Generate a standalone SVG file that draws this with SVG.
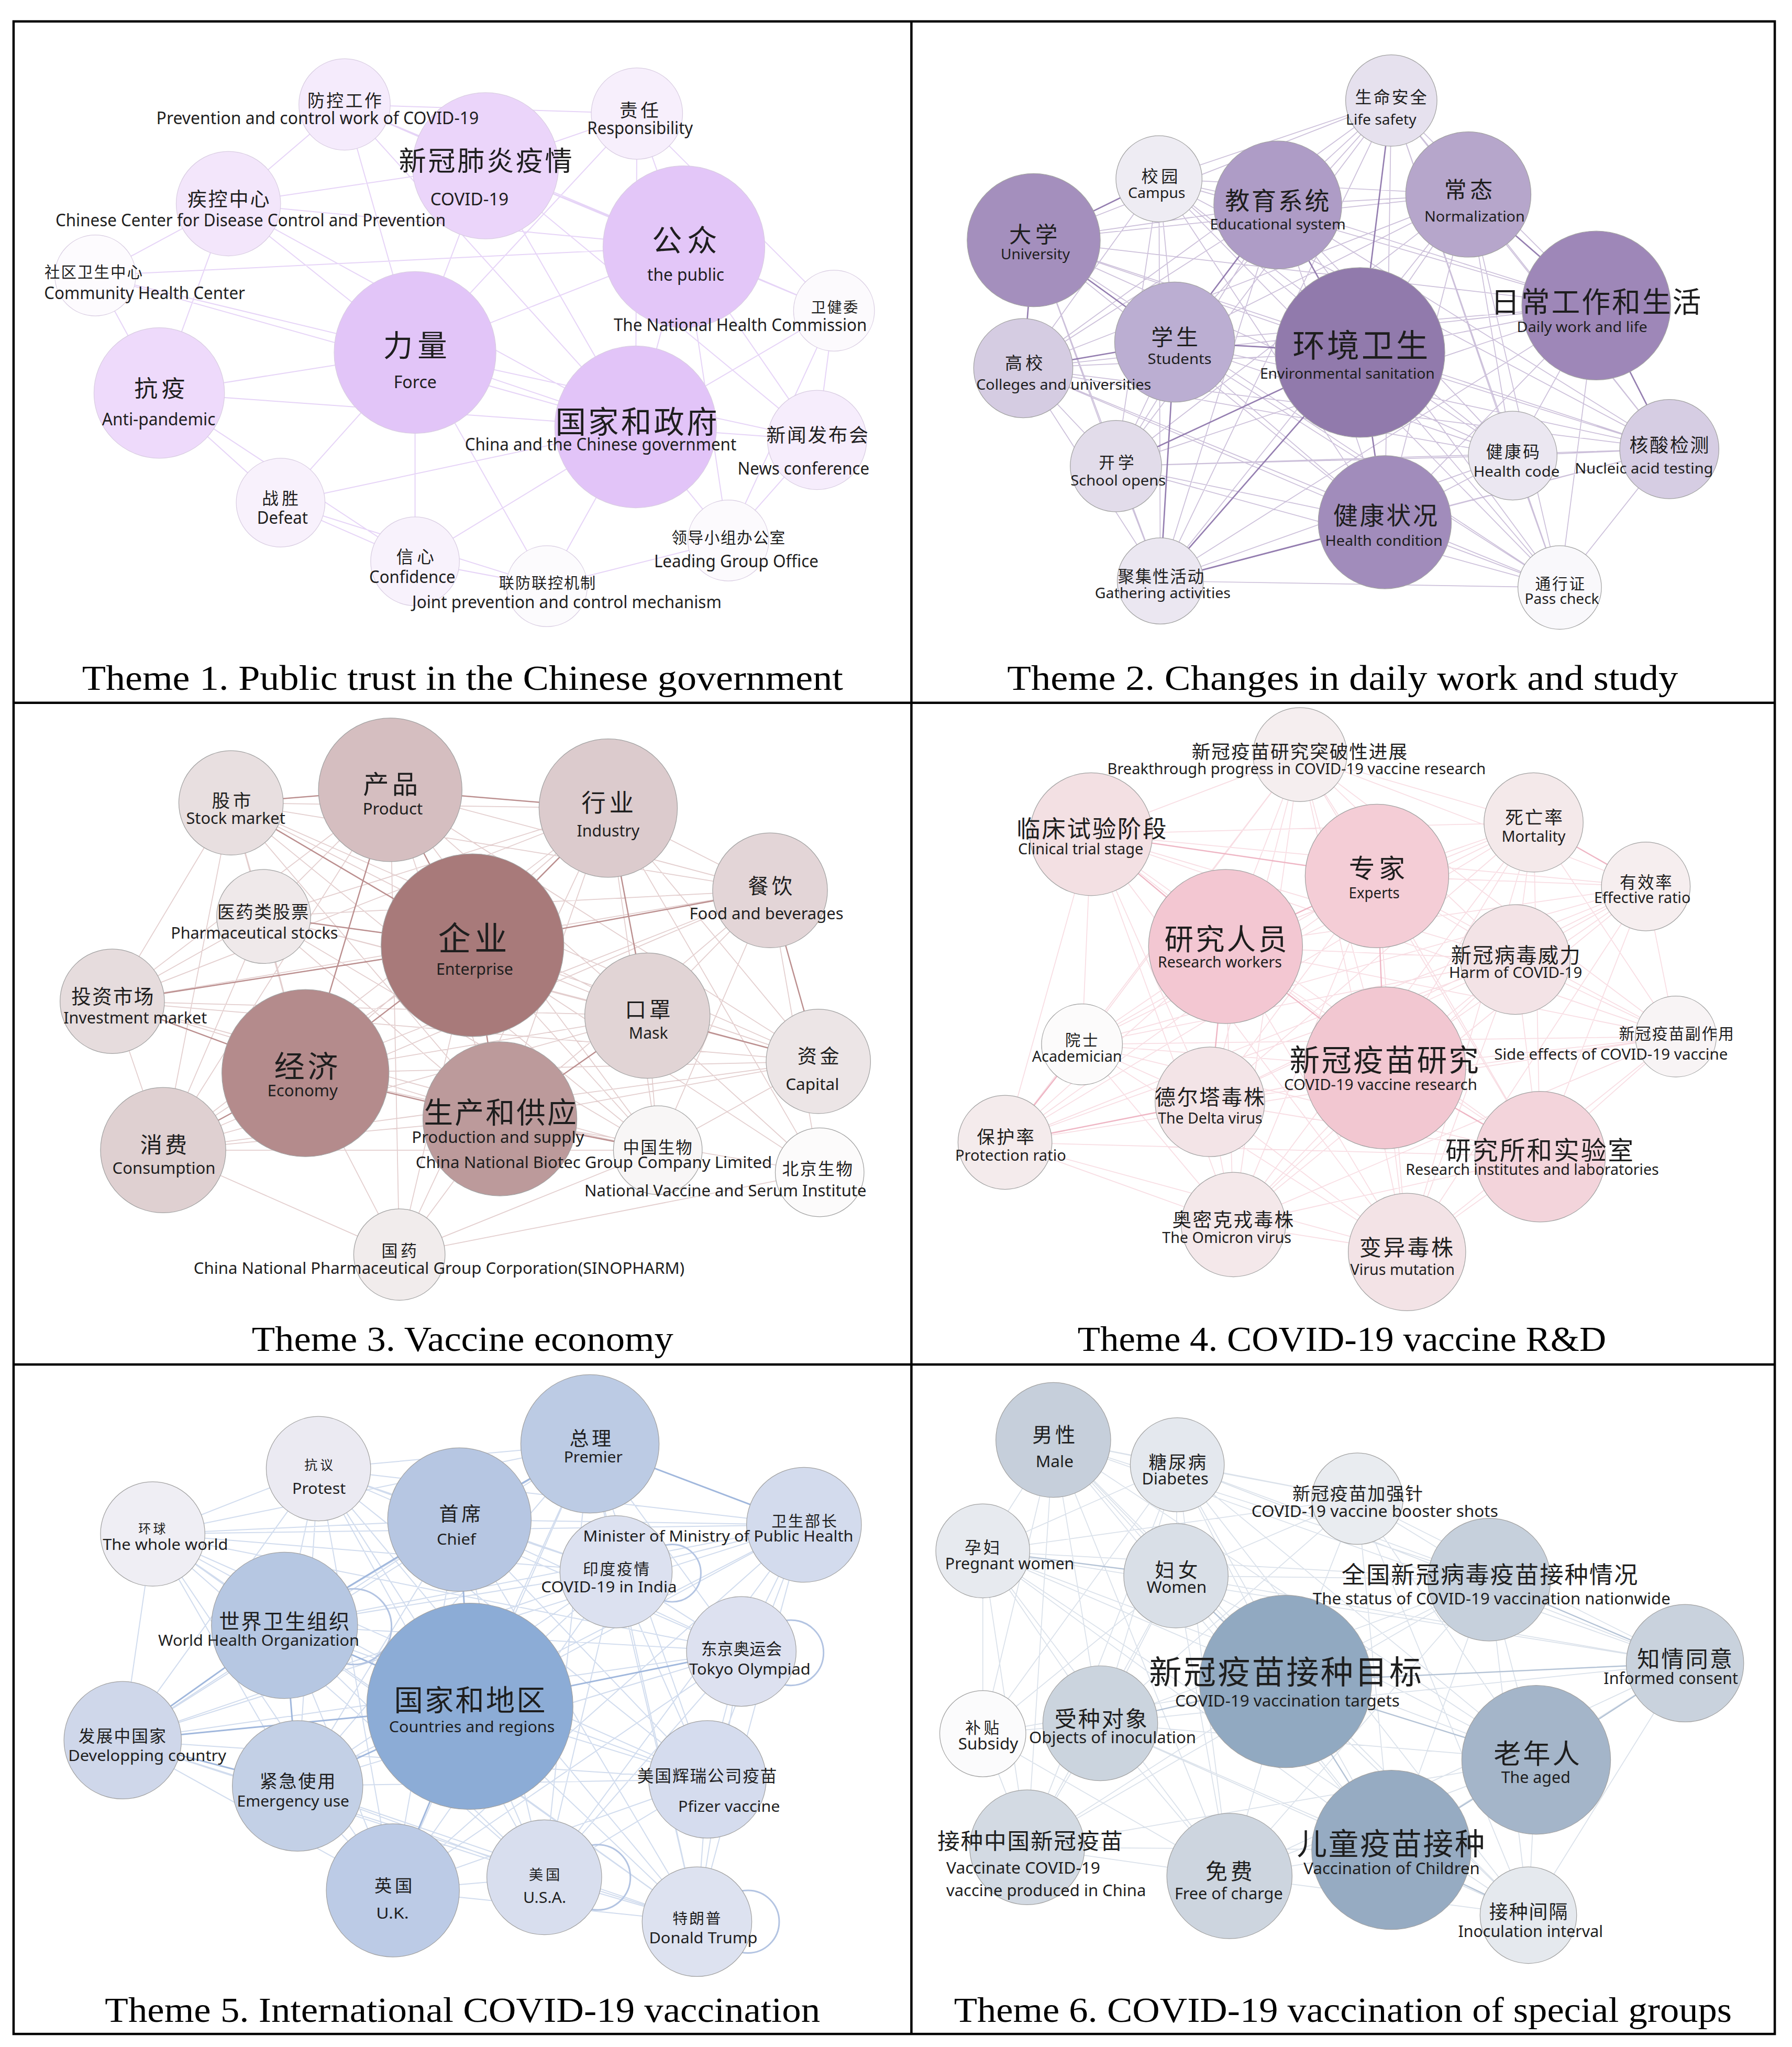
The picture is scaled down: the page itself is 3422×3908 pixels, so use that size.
<svg xmlns="http://www.w3.org/2000/svg" width="3422" height="3908" viewBox="0 0 3422 3908">
<style>
.zh{font-family:"Noto Sans CJK SC",sans-serif;fill:#1e1e1e;text-anchor:middle;dominant-baseline:central}
.en{font-family:"Noto Sans","Liberation Sans",sans-serif;fill:#1e1e1e;text-anchor:middle;dominant-baseline:central}
.t{font-family:"Liberation Serif",serif;font-size:27px;fill:#000;text-anchor:middle}
.n{stroke:#a2a2a2;stroke-width:0.5}
.p1 .n{stroke:#d9cde2}
.p1 .en{font-size:13px}
.p2 .en{font-size:11px}
.p3 .en{font-size:12.5px}
.p4 .en{font-size:12px}
.p5 .en{font-size:12px}
.p6 .en{font-size:12.5px}
.e{fill:none;stroke-linecap:round}
.e1{stroke:#dcc2f3;stroke-width:.8;opacity:.7}
.e2{stroke:#8e74ad;stroke-width:.7;opacity:.45}
.e2s{stroke:#7a5f9c;stroke-width:1.1;opacity:.7}
.e3{stroke:#b98484;stroke-width:.7;opacity:.4}
.e3s{stroke:#a56a6a;stroke-width:1;opacity:.65}
.e4{stroke:#efb3c2;stroke-width:.7;opacity:.45}
.e4s{stroke:#e89aae;stroke-width:1;opacity:.6}
.e5{stroke:#a3b9dd;stroke-width:.8;opacity:.5}
.e5s{stroke:#8ea9d6;stroke-width:1.2;opacity:.75}
.e6{stroke:#aebdd0;stroke-width:.7;opacity:.45}
.e6s{stroke:#9aaec6;stroke-width:1;opacity:.6}
.lp{fill:none;stroke:#b3c4e2;stroke-width:1.2}
.frame{fill:none;stroke:#000;stroke-width:1.8}
</style>
<rect width="3422" height="3908" fill="#fff"/>
<g transform="scale(2.49236)">
<g id="connectors">
<path class="e e1" d="M264 80L372 127M264 80L488 87M264 80L175 156M264 80L318 270M264 80L524 189M264 80L487 327M372 127L488 87M372 127L175 156M372 127L524 189M372 127L318 270M372 127L487 327M372 127L626 337M372 127L639 238M488 87L524 189M488 87L318 270M488 87L487 327M488 87L639 238M175 156L73 211M175 156L318 270M175 156L122 301M175 156L487 327M175 156L524 189M524 189L639 238M524 189L318 270M524 189L487 327M524 189L626 337M524 189L558 414M73 211L318 270M73 211L122 301M73 211L487 327M73 211L524 189M639 238L487 327M639 238L626 337M639 238L558 414M318 270L122 301M318 270L487 327M318 270L215 385M318 270L318 430M318 270L419 449M318 270L626 337M122 301L487 327M122 301L215 385M122 301L318 430M487 327L626 337M487 327L215 385M487 327L558 414M487 327L318 430M487 327L419 449M626 337L558 414M215 385L318 430M215 385L419 449M558 414L419 449M318 430L419 449"/>
<path class="e e2" d="M1066 77L888 137M1066 77L979 157M1066 77L1125 149M1066 77L792 184M1066 77L1223 234M1066 77L900 262M1066 77L1042 270M1066 77L784 282M1066 77L1159 349M1066 77L1279 344M1066 77L855 357M1066 77L1061 400M1066 77L889 445M1066 77L1195 450M888 137L979 157M888 137L1125 149M888 137L792 184M888 137L1223 234M888 137L900 262M888 137L1042 270M888 137L784 282M888 137L1159 349M888 137L1279 344M888 137L855 357M888 137L1061 400M888 137L889 445M888 137L1195 450M979 157L1125 149M979 157L792 184M979 157L1223 234M979 157L900 262M979 157L1042 270M979 157L784 282M979 157L1159 349M979 157L1279 344M979 157L855 357M979 157L1061 400M979 157L889 445M979 157L1195 450M1125 149L792 184M1125 149L1223 234M1125 149L900 262M1125 149L1042 270M1125 149L784 282M1125 149L1159 349M1125 149L1279 344M1125 149L855 357M1125 149L1061 400M1125 149L889 445M1125 149L1195 450M792 184L1223 234M792 184L900 262M792 184L1042 270M792 184L784 282M792 184L1159 349M792 184L1279 344M792 184L855 357M792 184L1061 400M792 184L889 445M792 184L1195 450M1223 234L900 262M1223 234L1042 270M1223 234L784 282M1223 234L1159 349M1223 234L1279 344M1223 234L855 357M1223 234L1061 400M1223 234L889 445M1223 234L1195 450M900 262L1042 270M900 262L784 282M900 262L1159 349M900 262L1279 344M900 262L855 357M900 262L1061 400M900 262L889 445M900 262L1195 450M1042 270L784 282M1042 270L1159 349M1042 270L1279 344M1042 270L855 357M1042 270L1061 400M1042 270L889 445M1042 270L1195 450M784 282L1159 349M784 282L1279 344M784 282L855 357M784 282L1061 400M784 282L889 445M784 282L1195 450M1159 349L1279 344M1159 349L855 357M1159 349L1061 400M1159 349L889 445M1159 349L1195 450M1279 344L855 357M1279 344L1061 400M1279 344L889 445M1279 344L1195 450M855 357L1061 400M855 357L889 445M855 357L1195 450M1061 400L889 445M1061 400L1195 450M889 445L1195 450"/>
<path class="e e2s" d="M1042 270L889 445M1042 270L900 262M792 184L784 282M979 157L1042 270M1042 270L1061 400M900 262L889 445M792 184L900 262M784 282L900 262M855 357L1042 270M1223 234L1279 344M1125 149L1223 234M888 137L792 184M979 157L900 262M1061 400L889 445M1066 77L1042 270"/>
<path class="e e3" d="M177 615L299 605M177 615L466 619M177 615L590 682M177 615L202 702M177 615L362 724M177 615L86 767M177 615L496 778M177 615L234 822M177 615L627 813M177 615L383 857M177 615L125 881M177 615L504 881M299 605L466 619M299 605L590 682M299 605L202 702M299 605L362 724M299 605L86 767M299 605L496 778M299 605L234 822M299 605L627 813M299 605L383 857M299 605L125 881M299 605L504 881M466 619L590 682M466 619L202 702M466 619L362 724M466 619L86 767M466 619L496 778M466 619L234 822M466 619L627 813M466 619L383 857M466 619L125 881M466 619L504 881M590 682L202 702M590 682L362 724M590 682L86 767M590 682L496 778M590 682L234 822M590 682L627 813M590 682L383 857M590 682L125 881M590 682L504 881M202 702L362 724M202 702L86 767M202 702L496 778M202 702L234 822M202 702L627 813M202 702L383 857M202 702L125 881M202 702L504 881M362 724L86 767M362 724L496 778M362 724L234 822M362 724L627 813M362 724L383 857M362 724L125 881M362 724L504 881M86 767L496 778M86 767L234 822M86 767L627 813M86 767L383 857M86 767L125 881M86 767L504 881M496 778L234 822M496 778L627 813M496 778L383 857M496 778L125 881M496 778L504 881M234 822L627 813M234 822L383 857M234 822L125 881M234 822L504 881M627 813L383 857M627 813L125 881M627 813L504 881M383 857L125 881M383 857L504 881M125 881L504 881M628 898L590 682M628 898L466 619M628 898L496 778M628 898L362 724M628 898L383 857M306 961L362 724M306 961L383 857M306 961L234 822M306 961L125 881M306 961L504 881M306 961L628 898M306 961L299 605M306 961L466 619"/>
<path class="e e3s" d="M362 724L234 822M362 724L383 857M362 724L299 605M362 724L466 619M234 822L383 857M362 724L202 702M177 615L362 724M86 767L362 724M234 822L86 767M299 605L234 822M466 619L496 778M590 682L362 724M496 778L383 857M627 813L496 778M125 881L234 822M383 857L504 881M590 682L627 813M177 615L299 605M299 605L466 619"/>
<path class="e e4" d="M996 578L836 639M996 578L1175 630M996 578L1055 671M996 578L1261 679M996 578L939 725M996 578L1161 735M996 578L829 800M996 578L1284 794M996 578L1061 818M996 578L927 844M996 578L770 875M996 578L1180 886M996 578L945 938M996 578L1078 959M836 639L1175 630M836 639L1055 671M836 639L1261 679M836 639L939 725M836 639L1161 735M836 639L829 800M836 639L1284 794M836 639L1061 818M836 639L927 844M836 639L770 875M836 639L1180 886M836 639L945 938M836 639L1078 959M1175 630L1055 671M1175 630L1261 679M1175 630L939 725M1175 630L1161 735M1175 630L829 800M1175 630L1284 794M1175 630L1061 818M1175 630L927 844M1175 630L770 875M1175 630L1180 886M1175 630L945 938M1175 630L1078 959M1055 671L1261 679M1055 671L939 725M1055 671L1161 735M1055 671L829 800M1055 671L1284 794M1055 671L1061 818M1055 671L927 844M1055 671L770 875M1055 671L1180 886M1055 671L945 938M1055 671L1078 959M1261 679L939 725M1261 679L1161 735M1261 679L829 800M1261 679L1284 794M1261 679L1061 818M1261 679L927 844M1261 679L770 875M1261 679L1180 886M1261 679L945 938M1261 679L1078 959M939 725L1161 735M939 725L829 800M939 725L1284 794M939 725L1061 818M939 725L927 844M939 725L770 875M939 725L1180 886M939 725L945 938M939 725L1078 959M1161 735L829 800M1161 735L1284 794M1161 735L1061 818M1161 735L927 844M1161 735L770 875M1161 735L1180 886M1161 735L945 938M1161 735L1078 959M829 800L1284 794M829 800L1061 818M829 800L927 844M829 800L770 875M829 800L1180 886M829 800L945 938M829 800L1078 959M1284 794L1061 818M1284 794L927 844M1284 794L770 875M1284 794L1180 886M1284 794L945 938M1284 794L1078 959M1061 818L927 844M1061 818L770 875M1061 818L1180 886M1061 818L945 938M1061 818L1078 959M927 844L770 875M927 844L1180 886M927 844L945 938M927 844L1078 959M770 875L1180 886M770 875L945 938M770 875L1078 959M1180 886L945 938M1180 886L1078 959M945 938L1078 959"/>
<path class="e e4s" d="M939 725L1061 818M1055 671L1061 818M836 639L939 725M1061 818L1180 886M939 725L927 844M770 875L927 844M1055 671L939 725M1175 630L1261 679M836 639L1055 671M770 875L829 800"/>
<path class="e e5" d="M452 1106L244 1125M452 1106L352 1164M452 1106L117 1175M452 1106L616 1168M452 1106L472 1204M452 1106L218 1245M452 1106L568 1265M452 1106L360 1307M452 1106L94 1333M452 1106L228 1368M452 1106L542 1363M452 1106L301 1448M452 1106L417 1438M452 1106L534 1472M244 1125L352 1164M244 1125L117 1175M244 1125L616 1168M244 1125L472 1204M244 1125L218 1245M244 1125L568 1265M244 1125L360 1307M244 1125L94 1333M244 1125L228 1368M244 1125L542 1363M244 1125L301 1448M244 1125L417 1438M244 1125L534 1472M352 1164L117 1175M352 1164L616 1168M352 1164L472 1204M352 1164L218 1245M352 1164L568 1265M352 1164L360 1307M352 1164L94 1333M352 1164L228 1368M352 1164L542 1363M352 1164L301 1448M352 1164L417 1438M352 1164L534 1472M117 1175L616 1168M117 1175L472 1204M117 1175L218 1245M117 1175L568 1265M117 1175L360 1307M117 1175L94 1333M117 1175L228 1368M117 1175L542 1363M117 1175L301 1448M117 1175L417 1438M117 1175L534 1472M616 1168L472 1204M616 1168L218 1245M616 1168L568 1265M616 1168L360 1307M616 1168L94 1333M616 1168L228 1368M616 1168L542 1363M616 1168L301 1448M616 1168L417 1438M616 1168L534 1472M472 1204L218 1245M472 1204L568 1265M472 1204L360 1307M472 1204L94 1333M472 1204L228 1368M472 1204L542 1363M472 1204L301 1448M472 1204L417 1438M472 1204L534 1472M218 1245L568 1265M218 1245L360 1307M218 1245L94 1333M218 1245L228 1368M218 1245L542 1363M218 1245L301 1448M218 1245L417 1438M218 1245L534 1472M568 1265L360 1307M568 1265L94 1333M568 1265L228 1368M568 1265L542 1363M568 1265L301 1448M568 1265L417 1438M568 1265L534 1472M360 1307L94 1333M360 1307L228 1368M360 1307L542 1363M360 1307L301 1448M360 1307L417 1438M360 1307L534 1472M94 1333L228 1368M94 1333L542 1363M94 1333L301 1448M94 1333L417 1438M94 1333L534 1472M228 1368L542 1363M228 1368L301 1448M228 1368L417 1438M228 1368L534 1472M542 1363L301 1448M542 1363L417 1438M542 1363L534 1472M301 1448L417 1438M301 1448L534 1472M417 1438L534 1472"/>
<path class="e e5s" d="M218 1245L94 1333M360 1307L94 1333M452 1106L616 1168M360 1307L568 1265M360 1307L218 1245M352 1164L360 1307M218 1245L228 1368M352 1164L218 1245M360 1307L228 1368M360 1307L301 1448M94 1333L228 1368M452 1106L352 1164"/>
<circle class="lp" cx="271" cy="1246" r="29"/>
<circle class="lp" cx="515" cy="1205" r="22"/>
<circle class="lp" cx="606" cy="1266" r="25"/>
<circle class="lp" cx="573" cy="1472" r="24"/>
<circle class="lp" cx="458" cy="1438" r="25"/>
<path class="e e6" d="M807 1103L902 1122M807 1103L1040 1148M807 1103L753 1188M807 1103L901 1207M807 1103L1141 1210M807 1103L985 1288M807 1103L1291 1274M807 1103L843 1320M807 1103L753 1328M807 1103L1177 1348M807 1103L787 1415M807 1103L1066 1417M807 1103L942 1437M807 1103L1171 1467M902 1122L1040 1148M902 1122L753 1188M902 1122L901 1207M902 1122L1141 1210M902 1122L985 1288M902 1122L1291 1274M902 1122L843 1320M902 1122L753 1328M902 1122L1177 1348M902 1122L787 1415M902 1122L1066 1417M902 1122L942 1437M902 1122L1171 1467M1040 1148L753 1188M1040 1148L901 1207M1040 1148L1141 1210M1040 1148L985 1288M1040 1148L1291 1274M1040 1148L843 1320M1040 1148L1177 1348M1040 1148L1066 1417M1040 1148L1171 1467M753 1188L901 1207M753 1188L1141 1210M753 1188L985 1288M753 1188L1291 1274M753 1188L843 1320M753 1188L753 1328M753 1188L1177 1348M753 1188L787 1415M753 1188L1066 1417M753 1188L942 1437M753 1188L1171 1467M901 1207L1141 1210M901 1207L985 1288M901 1207L1291 1274M901 1207L843 1320M901 1207L753 1328M901 1207L1177 1348M901 1207L787 1415M901 1207L1066 1417M901 1207L942 1437M901 1207L1171 1467M1141 1210L985 1288M1141 1210L1291 1274M1141 1210L843 1320M1141 1210L1177 1348M1141 1210L787 1415M1141 1210L1066 1417M1141 1210L942 1437M1141 1210L1171 1467M985 1288L1291 1274M985 1288L843 1320M985 1288L753 1328M985 1288L1177 1348M985 1288L787 1415M985 1288L1066 1417M985 1288L942 1437M985 1288L1171 1467M1291 1274L843 1320M1291 1274L1177 1348M1291 1274L1066 1417M1291 1274L942 1437M1291 1274L1171 1467M843 1320L753 1328M843 1320L1177 1348M843 1320L787 1415M843 1320L1066 1417M843 1320L942 1437M843 1320L1171 1467M753 1328L787 1415M753 1328L942 1437M1177 1348L787 1415M1177 1348L1066 1417M1177 1348L942 1437M1177 1348L1171 1467M787 1415L1066 1417M787 1415L942 1437M1066 1417L942 1437M1066 1417L1171 1467M942 1437L1171 1467"/>
<path class="e e6s" d="M985 1288L1291 1274M985 1288L843 1320M985 1288L1177 1348M1177 1348L1291 1274M1066 1417L1177 1348M1141 1210L1291 1274M985 1288L1066 1417M901 1207L985 1288M753 1188L901 1207M1066 1417L1171 1467"/>
</g>
<g id="theme1" class="p1">
<g id="t1-covid"><circle class="n" cx="372" cy="127" r="56" fill="#ebd5fa"/><text class="zh" x="372" y="121.4" font-size="21" textLength="133" lengthAdjust="spacing">新冠肺炎疫情</text><text class="en" x="359.7" y="152" textLength="60" lengthAdjust="spacingAndGlyphs">COVID-19</text></g>
<g id="t1-fangkong"><circle class="n" cx="264" cy="80" r="35" fill="#f5ebfc"/><text class="zh" x="264" y="76" font-size="13.2" textLength="57" lengthAdjust="spacing">防控工作</text><text class="en" x="243.3" y="90" textLength="247" lengthAdjust="spacingAndGlyphs">Prevention and control work of COVID-19</text></g>
<g id="t1-zeren"><circle class="n" cx="488" cy="87" r="35" fill="#f7effc"/><text class="zh" x="489.7" y="83.6" font-size="13.9" textLength="30" lengthAdjust="spacing">责任</text><text class="en" x="490.4" y="97.6" textLength="81" lengthAdjust="spacingAndGlyphs">Responsibility</text></g>
<g id="t1-cdc"><circle class="n" cx="175" cy="156" r="40" fill="#f3e6fb"/><text class="zh" x="175" y="151.6" font-size="14.9" textLength="63" lengthAdjust="spacing">疾控中心</text><text class="en" x="192" y="168" textLength="299" lengthAdjust="spacingAndGlyphs">Chinese Center for Disease Control and Prevention</text></g>
<g id="t1-public"><circle class="n" cx="524" cy="189" r="62" fill="#e3c6f8"/><text class="zh" x="524.5" y="182.4" font-size="23.1" textLength="50" lengthAdjust="spacing">公众</text><text class="en" x="525.4" y="210" textLength="59" lengthAdjust="spacingAndGlyphs">the public</text></g>
<g id="t1-community"><circle class="n" cx="73" cy="211" r="31" fill="#fdfbfe"/><text class="zh" x="71.6" y="207.6" font-size="11.8" textLength="75" lengthAdjust="spacing">社区卫生中心</text><text class="en" x="110.8" y="223.7" textLength="154" lengthAdjust="spacingAndGlyphs">Community Health Center</text></g>
<g id="t1-nhc"><circle class="n" cx="639" cy="238" r="31" fill="#fcfafd"/><text class="zh" x="639.4" y="234.4" font-size="11.3" textLength="36" lengthAdjust="spacing">卫健委</text><text class="en" x="567.2" y="248.5" textLength="194" lengthAdjust="spacingAndGlyphs">The National Health Commission</text></g>
<g id="t1-force"><circle class="n" cx="318" cy="270" r="62" fill="#e2c5f8"/><text class="zh" x="318.1" y="262.9" font-size="22.7" textLength="49" lengthAdjust="spacing">力量</text><text class="en" x="318.1" y="292" textLength="33" lengthAdjust="spacingAndGlyphs">Force</text></g>
<g id="t1-antipandemic"><circle class="n" cx="122" cy="301" r="50" fill="#eedafb"/><text class="zh" x="122.3" y="296.4" font-size="18" textLength="39" lengthAdjust="spacing">抗疫</text><text class="en" x="121.6" y="320.5" textLength="87" lengthAdjust="spacingAndGlyphs">Anti-pandemic</text></g>
<g id="t1-government"><circle class="n" cx="487" cy="327" r="62" fill="#e2c4f8"/><text class="zh" x="487.5" y="321.5" font-size="23.5" textLength="124" lengthAdjust="spacing">国家和政府</text><text class="en" x="460.2" y="340" textLength="208" lengthAdjust="spacingAndGlyphs">China and the Chinese government</text></g>
<g id="t1-newsconf"><circle class="n" cx="626" cy="337" r="38" fill="#f6edfc"/><text class="zh" x="626.2" y="332.6" font-size="14.7" textLength="78" lengthAdjust="spacing">新闻发布会</text><text class="en" x="615.6" y="358.4" textLength="101" lengthAdjust="spacingAndGlyphs">News conference</text></g>
<g id="t1-defeat"><circle class="n" cx="215" cy="385" r="34" fill="#f8f1fc"/><text class="zh" x="214.7" y="380.9" font-size="12.7" textLength="28" lengthAdjust="spacing">战胜</text><text class="en" x="216.4" y="396" textLength="39" lengthAdjust="spacingAndGlyphs">Defeat</text></g>
<g id="t1-leading"><circle class="n" cx="558" cy="414" r="31" fill="#fcfafd"/><text class="zh" x="558" y="411" font-size="11.9" textLength="87" lengthAdjust="spacing">领导小组办公室</text><text class="en" x="564.1" y="429.5" textLength="126" lengthAdjust="spacingAndGlyphs">Leading Group Office</text></g>
<g id="t1-confidence"><circle class="n" cx="318" cy="430" r="34" fill="#f8f2fc"/><text class="zh" x="318.1" y="425.5" font-size="13.1" textLength="29" lengthAdjust="spacing">信心</text><text class="en" x="315.9" y="441.5" textLength="66" lengthAdjust="spacingAndGlyphs">Confidence</text></g>
<g id="t1-joint"><circle class="n" cx="419" cy="449" r="31" fill="#fcfbfd"/><text class="zh" x="419.3" y="445.6" font-size="11.7" textLength="74" lengthAdjust="spacing">联防联控机制</text><text class="en" x="434.3" y="460.7" textLength="237" lengthAdjust="spacingAndGlyphs">Joint prevention and control mechanism</text></g>
</g>
<g id="theme2" class="p2">
<g id="t2-lifesafety"><circle class="n" cx="1066" cy="77" r="35" fill="#e6e1ee"/><text class="zh" x="1065.7" y="73.5" font-size="12.8" textLength="55" lengthAdjust="spacing">生命安全</text><text class="en" x="1058.2" y="91.3" textLength="54" lengthAdjust="spacingAndGlyphs">Life safety</text></g>
<g id="t2-campus"><circle class="n" cx="888" cy="137" r="33" fill="#eeecf3"/><text class="zh" x="888.5" y="133.9" font-size="12.9" textLength="28" lengthAdjust="spacing">校园</text><text class="en" x="886.2" y="147.3" textLength="44" lengthAdjust="spacingAndGlyphs">Campus</text></g>
<g id="t2-edusystem"><circle class="n" cx="979" cy="157" r="49" fill="#ae9cc6"/><text class="zh" x="978.6" y="152.3" font-size="18.9" textLength="80" lengthAdjust="spacing">教育系统</text><text class="en" x="979" y="171.4" textLength="104" lengthAdjust="spacingAndGlyphs">Educational system</text></g>
<g id="t2-normalization"><circle class="n" cx="1125" cy="149" r="48" fill="#b6a6cb"/><text class="zh" x="1125" y="143.9" font-size="17.2" textLength="37" lengthAdjust="spacing">常态</text><text class="en" x="1129.8" y="165.7" textLength="77" lengthAdjust="spacingAndGlyphs">Normalization</text></g>
<g id="t2-university"><circle class="n" cx="792" cy="184" r="51" fill="#a48fbd"/><text class="zh" x="791.7" y="178.4" font-size="17" textLength="37" lengthAdjust="spacing">大学</text><text class="en" x="793.2" y="194.2" textLength="53" lengthAdjust="spacingAndGlyphs">University</text></g>
<g id="t2-dailywork"><circle class="n" cx="1223" cy="234" r="57" fill="#9e87b8"/><text class="zh" x="1222.8" y="229.4" font-size="22" textLength="161" lengthAdjust="spacing">日常工作和生活</text><text class="en" x="1212.2" y="250.2" textLength="100" lengthAdjust="spacingAndGlyphs">Daily work and life</text></g>
<g id="t2-students"><circle class="n" cx="900" cy="262" r="46" fill="#bbaed2"/><text class="zh" x="900" y="256.9" font-size="16.8" textLength="36" lengthAdjust="spacing">学生</text><text class="en" x="903.8" y="274.6" textLength="49" lengthAdjust="spacingAndGlyphs">Students</text></g>
<g id="t2-sanitation"><circle class="n" cx="1042" cy="270" r="65" fill="#917aac"/><text class="zh" x="1042.3" y="262.9" font-size="24.8" textLength="104" lengthAdjust="spacing">环境卫生</text><text class="en" x="1032.3" y="285.7" textLength="134" lengthAdjust="spacingAndGlyphs">Environmental sanitation</text></g>
<g id="t2-colleges"><circle class="n" cx="784" cy="282" r="38" fill="#d5cce2"/><text class="zh" x="784.5" y="277.3" font-size="13.3" textLength="29" lengthAdjust="spacing">高校</text><text class="en" x="815" y="294.1" textLength="134" lengthAdjust="spacingAndGlyphs">Colleges and universities</text></g>
<g id="t2-healthcode"><circle class="n" cx="1159" cy="349" r="34" fill="#ebe7f1"/><text class="zh" x="1159.1" y="345" font-size="12.7" textLength="41" lengthAdjust="spacing">健康码</text><text class="en" x="1161.9" y="361.1" textLength="66" lengthAdjust="spacingAndGlyphs">Health code</text></g>
<g id="t2-nucleic"><circle class="n" cx="1279" cy="344" r="38" fill="#d6cde3"/><text class="zh" x="1278.9" y="340" font-size="14.4" textLength="61" lengthAdjust="spacing">核酸检测</text><text class="en" x="1259.6" y="358.4" textLength="106" lengthAdjust="spacingAndGlyphs">Nucleic acid testing</text></g>
<g id="t2-schoolopens"><circle class="n" cx="855" cy="357" r="35" fill="#e2dcea"/><text class="zh" x="855.4" y="353.4" font-size="12.3" textLength="27" lengthAdjust="spacing">开学</text><text class="en" x="856.7" y="367.8" textLength="73" lengthAdjust="spacingAndGlyphs">School opens</text></g>
<g id="t2-healthcond"><circle class="n" cx="1061" cy="400" r="51" fill="#a18cbb"/><text class="zh" x="1061.4" y="393.6" font-size="18.9" textLength="80" lengthAdjust="spacing">健康状况</text><text class="en" x="1060.3" y="413.7" textLength="90" lengthAdjust="spacingAndGlyphs">Health condition</text></g>
<g id="t2-gathering"><circle class="n" cx="889" cy="445" r="33" fill="#ebe7f1"/><text class="zh" x="889.4" y="440.6" font-size="12.6" textLength="66" lengthAdjust="spacing">聚集性活动</text><text class="en" x="890.9" y="453.9" textLength="104" lengthAdjust="spacingAndGlyphs">Gathering activities</text></g>
<g id="t2-passcheck"><circle class="n" cx="1195" cy="450" r="32" fill="#f9f8fb"/><text class="zh" x="1195.2" y="446.3" font-size="11.9" textLength="38" lengthAdjust="spacing">通行证</text><text class="en" x="1196.7" y="458.3" textLength="57" lengthAdjust="spacingAndGlyphs">Pass check</text></g>
</g>
<g id="theme3" class="p3">
<g id="t3-stock"><circle class="n" cx="177" cy="615" r="40" fill="#e8dfe0"/><text class="zh" x="177.3" y="612.3" font-size="13.9" textLength="30" lengthAdjust="spacing">股市</text><text class="en" x="180.6" y="626.3" textLength="76" lengthAdjust="spacingAndGlyphs">Stock market</text></g>
<g id="t3-product"><circle class="n" cx="299" cy="605" r="55" fill="#d5bec0"/><text class="zh" x="299.2" y="599.2" font-size="19.8" textLength="42" lengthAdjust="spacing">产品</text><text class="en" x="300.9" y="619.1" textLength="46" lengthAdjust="spacingAndGlyphs">Product</text></g>
<g id="t3-industry"><circle class="n" cx="466" cy="619" r="53" fill="#dccbcd"/><text class="zh" x="465.5" y="613.2" font-size="18.7" textLength="40" lengthAdjust="spacing">行业</text><text class="en" x="466" y="636.1" textLength="48" lengthAdjust="spacingAndGlyphs">Industry</text></g>
<g id="t3-food"><circle class="n" cx="590" cy="682" r="44" fill="#e3d5d7"/><text class="zh" x="590.1" y="677.5" font-size="15.8" textLength="34" lengthAdjust="spacing">餐饮</text><text class="en" x="587.2" y="699.4" textLength="118" lengthAdjust="spacingAndGlyphs">Food and beverages</text></g>
<g id="t3-pharmastocks"><circle class="n" cx="202" cy="702" r="36" fill="#efe9ea"/><text class="zh" x="201.5" y="697.7" font-size="13.4" textLength="70" lengthAdjust="spacing">医药类股票</text><text class="en" x="194.9" y="714.1" textLength="128" lengthAdjust="spacingAndGlyphs">Pharmaceutical stocks</text></g>
<g id="t3-enterprise"><circle class="n" cx="362" cy="724" r="70" fill="#a87a7a"/><text class="zh" x="362.1" y="716.7" font-size="25.1" textLength="53" lengthAdjust="spacing">企业</text><text class="en" x="363.7" y="741.8" textLength="59" lengthAdjust="spacingAndGlyphs">Enterprise</text></g>
<g id="t3-investment"><circle class="n" cx="86" cy="767" r="40" fill="#e6dcdd"/><text class="zh" x="86.2" y="762.3" font-size="15.1" textLength="63" lengthAdjust="spacing">投资市场</text><text class="en" x="103.6" y="779.3" textLength="110" lengthAdjust="spacingAndGlyphs">Investment market</text></g>
<g id="t3-mask"><circle class="n" cx="496" cy="778" r="48" fill="#e1d4d5"/><text class="zh" x="496.3" y="772.1" font-size="16.4" textLength="35" lengthAdjust="spacing">口罩</text><text class="en" x="496.8" y="791" textLength="30" lengthAdjust="spacingAndGlyphs">Mask</text></g>
<g id="t3-economy"><circle class="n" cx="234" cy="822" r="64" fill="#b48b8c"/><text class="zh" x="234.5" y="815.2" font-size="23.4" textLength="49" lengthAdjust="spacing">经济</text><text class="en" x="231.8" y="835.1" textLength="54" lengthAdjust="spacingAndGlyphs">Economy</text></g>
<g id="t3-capital"><circle class="n" cx="627" cy="813" r="40" fill="#ece5e6"/><text class="zh" x="627" y="808" font-size="14.9" textLength="32" lengthAdjust="spacing">资金</text><text class="en" x="622.4" y="830.2" textLength="41" lengthAdjust="spacingAndGlyphs">Capital</text></g>
<g id="t3-production"><circle class="n" cx="383" cy="857" r="59" fill="#bc9a9b"/><text class="zh" x="383.2" y="850.4" font-size="22.4" textLength="117" lengthAdjust="spacing">生产和供应</text><text class="en" x="381.5" y="870.7" textLength="132" lengthAdjust="spacingAndGlyphs">Production and supply</text></g>
<g id="t3-consumption"><circle class="n" cx="125" cy="881" r="48" fill="#dfd0d1"/><text class="zh" x="125.3" y="875.6" font-size="17" textLength="36" lengthAdjust="spacing">消费</text><text class="en" x="125.6" y="894.5" textLength="79" lengthAdjust="spacingAndGlyphs">Consumption</text></g>
<g id="t3-cnbg"><circle class="n" cx="504" cy="881" r="34" fill="#f8f6f6"/><text class="zh" x="503.8" y="878" font-size="12.6" textLength="53" lengthAdjust="spacing">中国生物</text><text class="en" x="455" y="890" textLength="273" lengthAdjust="spacingAndGlyphs">China National Biotec Group Company Limited</text></g>
<g id="t3-beijingbio"><circle class="n" cx="628" cy="898" r="34" fill="#fcfbfb"/><text class="zh" x="626.2" y="894.5" font-size="12.7" textLength="54" lengthAdjust="spacing">北京生物</text><text class="en" x="555.8" y="911.4" textLength="216" lengthAdjust="spacingAndGlyphs">National Vaccine and Serum Institute</text></g>
<g id="t3-sinopharm"><circle class="n" cx="306" cy="961" r="35" fill="#f1ecec"/><text class="zh" x="305.8" y="957.1" font-size="12.4" textLength="27" lengthAdjust="spacing">国药</text><text class="en" x="336.4" y="971.1" textLength="376" lengthAdjust="spacingAndGlyphs">China National Pharmaceutical Group Corporation(SINOPHARM)</text></g>
</g>
<g id="theme4" class="p4">
<g id="t4-breakthrough"><circle class="n" cx="996" cy="578" r="36" fill="#f5eeef"/><text class="zh" x="995.6" y="574.8" font-size="14.3" textLength="165" lengthAdjust="spacing">新冠疫苗研究突破性进展</text><text class="en" x="993.4" y="588.5" textLength="290" lengthAdjust="spacingAndGlyphs">Breakthrough progress in COVID-19 vaccine research</text></g>
<g id="t4-clinical"><circle class="n" cx="836" cy="639" r="47" fill="#f3e0e3"/><text class="zh" x="836.3" y="633.5" font-size="18.3" textLength="115" lengthAdjust="spacing">临床试验阶段</text><text class="en" x="828" y="649.8" textLength="96" lengthAdjust="spacingAndGlyphs">Clinical trial stage</text></g>
<g id="t4-mortality"><circle class="n" cx="1175" cy="630" r="38" fill="#f4e9ea"/><text class="zh" x="1175.2" y="625.3" font-size="13.9" textLength="44" lengthAdjust="spacing">死亡率</text><text class="en" x="1175" y="640" textLength="49" lengthAdjust="spacingAndGlyphs">Mortality</text></g>
<g id="t4-experts"><circle class="n" cx="1055" cy="671" r="55" fill="#f4cdd6"/><text class="zh" x="1055" y="663.8" font-size="20" textLength="43" lengthAdjust="spacing">专家</text><text class="en" x="1052.9" y="683.4" textLength="39" lengthAdjust="spacingAndGlyphs">Experts</text></g>
<g id="t4-effective"><circle class="n" cx="1261" cy="679" r="34" fill="#f6eeef"/><text class="zh" x="1261" y="675.2" font-size="12.6" textLength="40" lengthAdjust="spacing">有效率</text><text class="en" x="1258.3" y="687.3" textLength="74" lengthAdjust="spacingAndGlyphs">Effective ratio</text></g>
<g id="t4-researchers"><circle class="n" cx="939" cy="725" r="59" fill="#f3c7d2"/><text class="zh" x="939.1" y="717.6" font-size="22.3" textLength="94" lengthAdjust="spacing">研究人员</text><text class="en" x="934.6" y="736.3" textLength="95" lengthAdjust="spacingAndGlyphs">Research workers</text></g>
<g id="t4-harm"><circle class="n" cx="1161" cy="735" r="42" fill="#f3e3e6"/><text class="zh" x="1161.2" y="730.4" font-size="15.8" textLength="99" lengthAdjust="spacing">新冠病毒威力</text><text class="en" x="1161.2" y="744.4" textLength="102" lengthAdjust="spacingAndGlyphs">Harm of COVID-19</text></g>
<g id="t4-academician"><circle class="n" cx="829" cy="800" r="31" fill="#fcfbfb"/><text class="zh" x="828.6" y="796" font-size="11.7" textLength="25" lengthAdjust="spacing">院士</text><text class="en" x="825.2" y="808.7" textLength="69" lengthAdjust="spacingAndGlyphs">Academician</text></g>
<g id="t4-sideeffects"><circle class="n" cx="1284" cy="794" r="31" fill="#f8f4f5"/><text class="zh" x="1284.4" y="790.7" font-size="12" textLength="88" lengthAdjust="spacing">新冠疫苗副作用</text><text class="en" x="1234.3" y="807" textLength="179" lengthAdjust="spacingAndGlyphs">Side effects of COVID-19 vaccine</text></g>
<g id="t4-vaccineresearch"><circle class="n" cx="1061" cy="818" r="62" fill="#f2c7d1"/><text class="zh" x="1060.5" y="810.6" font-size="23.1" textLength="145" lengthAdjust="spacing">新冠疫苗研究</text><text class="en" x="1057.8" y="830.2" textLength="148" lengthAdjust="spacingAndGlyphs">COVID-19 vaccine research</text></g>
<g id="t4-delta"><circle class="n" cx="927" cy="844" r="42" fill="#f3e4e7"/><text class="zh" x="926.8" y="839" font-size="15.9" textLength="84" lengthAdjust="spacing">德尔塔毒株</text><text class="en" x="927.2" y="856" textLength="80" lengthAdjust="spacingAndGlyphs">The Delta virus</text></g>
<g id="t4-protection"><circle class="n" cx="770" cy="875" r="36" fill="#f4ebec"/><text class="zh" x="770.4" y="870" font-size="13.8" textLength="44" lengthAdjust="spacing">保护率</text><text class="en" x="774.3" y="884.7" textLength="85" lengthAdjust="spacingAndGlyphs">Protection ratio</text></g>
<g id="t4-institutes"><circle class="n" cx="1180" cy="886" r="50" fill="#f3d4db"/><text class="zh" x="1179.5" y="879.8" font-size="19.6" textLength="144" lengthAdjust="spacing">研究所和实验室</text><text class="en" x="1174" y="895.5" textLength="194" lengthAdjust="spacingAndGlyphs">Research institutes and laboratories</text></g>
<g id="t4-omicron"><circle class="n" cx="945" cy="938" r="40" fill="#f4e8ea"/><text class="zh" x="944.6" y="933.6" font-size="14.7" textLength="93" lengthAdjust="spacing">奥密克戎毒株</text><text class="en" x="939.9" y="947.3" textLength="99" lengthAdjust="spacingAndGlyphs">The Omicron virus</text></g>
<g id="t4-mutation"><circle class="n" cx="1078" cy="959" r="45" fill="#f3e3e6"/><text class="zh" x="1077.5" y="954.2" font-size="16.9" textLength="72" lengthAdjust="spacing">变异毒株</text><text class="en" x="1074.6" y="971.8" textLength="80" lengthAdjust="spacingAndGlyphs">Virus mutation</text></g>
</g>
<g id="theme5" class="p5">
<g id="t5-premier"><circle class="n" cx="452" cy="1106" r="53" fill="#bccbe4"/><text class="zh" x="452.3" y="1101" font-size="14.9" textLength="32" lengthAdjust="spacing">总理</text><text class="en" x="454.5" y="1115.8" textLength="45" lengthAdjust="spacingAndGlyphs">Premier</text></g>
<g id="t5-protest"><circle class="n" cx="244" cy="1125" r="40" fill="#ebeaf2"/><text class="zh" x="244.2" y="1121.4" font-size="10" textLength="22" lengthAdjust="spacing">抗议</text><text class="en" x="244.4" y="1139.6" textLength="41" lengthAdjust="spacingAndGlyphs">Protest</text></g>
<g id="t5-chief"><circle class="n" cx="352" cy="1164" r="55" fill="#b6c6e2"/><text class="zh" x="352.4" y="1158.7" font-size="14.9" textLength="32" lengthAdjust="spacing">首席</text><text class="en" x="349.6" y="1178.5" textLength="30" lengthAdjust="spacingAndGlyphs">Chief</text></g>
<g id="t5-world"><circle class="n" cx="117" cy="1175" r="40" fill="#efeef4"/><text class="zh" x="116.5" y="1170.3" font-size="9.6" textLength="21" lengthAdjust="spacing">环球</text><text class="en" x="126.7" y="1182.8" textLength="96" lengthAdjust="spacingAndGlyphs">The whole world</text></g>
<g id="t5-india"><circle class="n" cx="472" cy="1204" r="43" fill="#dce1f0"/><text class="zh" x="472.1" y="1201" font-size="11.9" textLength="51" lengthAdjust="spacing">印度疫情</text><text class="en" x="466.6" y="1215.2" textLength="104" lengthAdjust="spacingAndGlyphs">COVID-19 in India</text></g>
<g id="t5-minister"><circle class="n" cx="616" cy="1168" r="44" fill="#d3dbed"/><text class="zh" x="616.1" y="1164.3" font-size="11.7" textLength="50" lengthAdjust="spacing">卫生部长</text><text class="en" x="550.3" y="1176.2" textLength="207" lengthAdjust="spacingAndGlyphs">Minister of Ministry of Public Health</text></g>
<g id="t5-who"><circle class="n" cx="218" cy="1245" r="56" fill="#b6c7e2"/><text class="zh" x="217.8" y="1240.6" font-size="15.8" textLength="100" lengthAdjust="spacing">世界卫生组织</text><text class="en" x="198.2" y="1256.1" textLength="154" lengthAdjust="spacingAndGlyphs">World Health Organization</text></g>
<g id="t5-tokyo"><circle class="n" cx="568" cy="1265" r="42" fill="#dde1f0"/><text class="zh" x="568.1" y="1262" font-size="12.3" textLength="62" lengthAdjust="spacing">东京奥运会</text><text class="en" x="574.5" y="1278.2" textLength="93" lengthAdjust="spacingAndGlyphs">Tokyo Olympiad</text></g>
<g id="t5-countries"><circle class="n" cx="360" cy="1307" r="79" fill="#8cacd6"/><text class="zh" x="359.9" y="1300.7" font-size="22.2" textLength="116" lengthAdjust="spacing">国家和地区</text><text class="en" x="361.5" y="1322.1" textLength="127" lengthAdjust="spacingAndGlyphs">Countries and regions</text></g>
<g id="t5-developing"><circle class="n" cx="94" cy="1333" r="45" fill="#cfd7ea"/><text class="zh" x="93.6" y="1328.7" font-size="12.7" textLength="67" lengthAdjust="spacing">发展中国家</text><text class="en" x="112.8" y="1344.2" textLength="121" lengthAdjust="spacingAndGlyphs">Developping country</text></g>
<g id="t5-emergency"><circle class="n" cx="228" cy="1368" r="50" fill="#c3d0e6"/><text class="zh" x="227.9" y="1363.4" font-size="13.7" textLength="58" lengthAdjust="spacing">紧急使用</text><text class="en" x="224.6" y="1379.2" textLength="86" lengthAdjust="spacingAndGlyphs">Emergency use</text></g>
<g id="t5-pfizer"><circle class="n" cx="542" cy="1363" r="45" fill="#d5dcee"/><text class="zh" x="541.7" y="1359.4" font-size="12.7" textLength="107" lengthAdjust="spacing">美国辉瑞公司疫苗</text><text class="en" x="558.6" y="1383.2" textLength="78" lengthAdjust="spacingAndGlyphs">Pfizer vaccine</text></g>
<g id="t5-uk"><circle class="n" cx="301" cy="1448" r="51" fill="#bccbe6"/><text class="zh" x="301.4" y="1443.6" font-size="13.4" textLength="29" lengthAdjust="spacing">英国</text><text class="en" x="300.7" y="1465" textLength="25" lengthAdjust="spacingAndGlyphs">U.K.</text></g>
<g id="t5-usa"><circle class="n" cx="417" cy="1438" r="44" fill="#d8deee"/><text class="zh" x="417.1" y="1435" font-size="11" textLength="24" lengthAdjust="spacing">美国</text><text class="en" x="417.3" y="1453.2" textLength="33" lengthAdjust="spacingAndGlyphs">U.S.A.</text></g>
<g id="t5-trump"><circle class="n" cx="534" cy="1472" r="42" fill="#dde2f0"/><text class="zh" x="533.8" y="1468.4" font-size="11.6" textLength="37" lengthAdjust="spacing">特朗普</text><text class="en" x="538.8" y="1483.9" textLength="83" lengthAdjust="spacingAndGlyphs">Donald Trump</text></g>
</g>
<g id="theme6" class="p6">
<g id="t6-male"><circle class="n" cx="807" cy="1103" r="44" fill="#c6cfdb"/><text class="zh" x="807.4" y="1097.7" font-size="15.4" textLength="33" lengthAdjust="spacing">男性</text><text class="en" x="808" y="1119.1" textLength="29" lengthAdjust="spacingAndGlyphs">Male</text></g>
<g id="t6-diabetes"><circle class="n" cx="902" cy="1122" r="36" fill="#e4e8ee"/><text class="zh" x="902.1" y="1119.1" font-size="13.8" textLength="44" lengthAdjust="spacing">糖尿病</text><text class="en" x="900.4" y="1132.3" textLength="51" lengthAdjust="spacingAndGlyphs">Diabetes</text></g>
<g id="t6-booster"><circle class="n" cx="1040" cy="1148" r="35" fill="#e9ecf0"/><text class="zh" x="1040.2" y="1143.2" font-size="13.7" textLength="100" lengthAdjust="spacing">新冠疫苗加强针</text><text class="en" x="1053.3" y="1157.1" textLength="189" lengthAdjust="spacingAndGlyphs">COVID-19 vaccine booster shots</text></g>
<g id="t6-pregnant"><circle class="n" cx="753" cy="1188" r="36" fill="#e7eaef"/><text class="zh" x="752.6" y="1184.5" font-size="12.7" textLength="27" lengthAdjust="spacing">孕妇</text><text class="en" x="773.6" y="1197.4" textLength="99" lengthAdjust="spacingAndGlyphs">Pregnant women</text></g>
<g id="t6-women"><circle class="n" cx="901" cy="1207" r="40" fill="#d9dfe7"/><text class="zh" x="901.3" y="1201.6" font-size="15.1" textLength="33" lengthAdjust="spacing">妇女</text><text class="en" x="901.5" y="1215.5" textLength="46" lengthAdjust="spacingAndGlyphs">Women</text></g>
<g id="t6-targets"><circle class="n" cx="985" cy="1288" r="66" fill="#91a9c1"/><text class="zh" x="984.9" y="1279.2" font-size="25" textLength="209" lengthAdjust="spacing">新冠疫苗接种目标</text><text class="en" x="986.4" y="1302.3" textLength="172" lengthAdjust="spacingAndGlyphs">COVID-19 vaccination targets</text></g>
<g id="t6-status"><circle class="n" cx="1141" cy="1210" r="47" fill="#c6d0dc"/><text class="zh" x="1141.3" y="1205" font-size="18.2" textLength="227" lengthAdjust="spacing">全国新冠病毒疫苗接种情况</text><text class="en" x="1142.8" y="1224.1" textLength="274" lengthAdjust="spacingAndGlyphs">The status of COVID-19 vaccination nationwide</text></g>
<g id="t6-consent"><circle class="n" cx="1291" cy="1274" r="45" fill="#c9d2dd"/><text class="zh" x="1290.8" y="1269.3" font-size="17.4" textLength="73" lengthAdjust="spacing">知情同意</text><text class="en" x="1280.2" y="1285.2" textLength="103" lengthAdjust="spacingAndGlyphs">Informed consent</text></g>
<g id="t6-subsidy"><circle class="n" cx="753" cy="1328" r="33" fill="#fbfbfc"/><text class="zh" x="752.6" y="1322.6" font-size="11.9" textLength="26" lengthAdjust="spacing">补贴</text><text class="en" x="757.1" y="1335.4" textLength="46" lengthAdjust="spacingAndGlyphs">Subsidy</text></g>
<g id="t6-objects"><circle class="n" cx="843" cy="1320" r="44" fill="#cbd4de"/><text class="zh" x="843.5" y="1315.5" font-size="16.9" textLength="71" lengthAdjust="spacing">受种对象</text><text class="en" x="852.4" y="1330.4" textLength="128" lengthAdjust="spacingAndGlyphs">Objects of inoculation</text></g>
<g id="t6-aged"><circle class="n" cx="1177" cy="1348" r="57" fill="#a4b5c9"/><text class="zh" x="1177.4" y="1341.9" font-size="21" textLength="66" lengthAdjust="spacing">老年人</text><text class="en" x="1176.7" y="1361.1" textLength="53" lengthAdjust="spacingAndGlyphs">The aged</text></g>
<g id="t6-chinesevaccine"><circle class="n" cx="787" cy="1415" r="44" fill="#d3dae3"/><text class="zh" x="718.2" y="1408.9" font-size="17.1" textLength="142" lengthAdjust="spacing" style="text-anchor:start">接种中国新冠疫苗</text><text class="en" x="725" y="1430.4" textLength="118" lengthAdjust="spacingAndGlyphs" style="text-anchor:start">Vaccinate COVID-19</text><text class="en" x="725" y="1447.6" textLength="153" lengthAdjust="spacingAndGlyphs" style="text-anchor:start">vaccine produced in China</text></g>
<g id="t6-free"><circle class="n" cx="942" cy="1437" r="48" fill="#cdd5df"/><text class="zh" x="941.6" y="1432" font-size="16.8" textLength="36" lengthAdjust="spacing">免费</text><text class="en" x="941.4" y="1449.9" textLength="83" lengthAdjust="spacingAndGlyphs">Free of charge</text></g>
<g id="t6-children"><circle class="n" cx="1066" cy="1417" r="61" fill="#96abc2"/><text class="zh" x="1065.6" y="1410.8" font-size="23.1" textLength="144" lengthAdjust="spacing">儿童疫苗接种</text><text class="en" x="1066.3" y="1430.9" textLength="135" lengthAdjust="spacingAndGlyphs">Vaccination of Children</text></g>
<g id="t6-interval"><circle class="n" cx="1171" cy="1467" r="37" fill="#e5e9ee"/><text class="zh" x="1171" y="1463.4" font-size="14.4" textLength="60" lengthAdjust="spacing">接种间隔</text><text class="en" x="1172.7" y="1478.9" textLength="111" lengthAdjust="spacingAndGlyphs">Inoculation interval</text></g>
</g>
<g id="titles">
<text class="t" x="354.4" y="528.4" textLength="583" lengthAdjust="spacingAndGlyphs">Theme 1. Public trust in the Chinese government</text>
<text class="t" x="1028.7" y="528.4" textLength="514" lengthAdjust="spacingAndGlyphs">Theme 2. Changes in daily work and study</text>
<text class="t" x="354.4" y="1034.8" textLength="323" lengthAdjust="spacingAndGlyphs">Theme 3. Vaccine economy</text>
<text class="t" x="1028.1" y="1034.8" textLength="405" lengthAdjust="spacingAndGlyphs">Theme 4. COVID-19 vaccine R&amp;D</text>
<text class="t" x="354.4" y="1548.9" textLength="548" lengthAdjust="spacingAndGlyphs">Theme 5. International COVID-19 vaccination</text>
<text class="t" x="1028.9" y="1548.9" textLength="596" lengthAdjust="spacingAndGlyphs">Theme 6. COVID-19 vaccination of special groups</text>
</g>
<g id="frame">
<rect class="frame" x="10.4" y="16.4" width="1349.4" height="1541.6"/>
<line class="frame" x1="698.3" y1="16.4" x2="698.3" y2="1558"/>
<line class="frame" x1="10.4" y1="538.3" x2="1359.8" y2="538.3"/>
<line class="frame" x1="10.4" y1="1045.2" x2="1359.8" y2="1045.2"/>
</g>
</g>
</svg>
